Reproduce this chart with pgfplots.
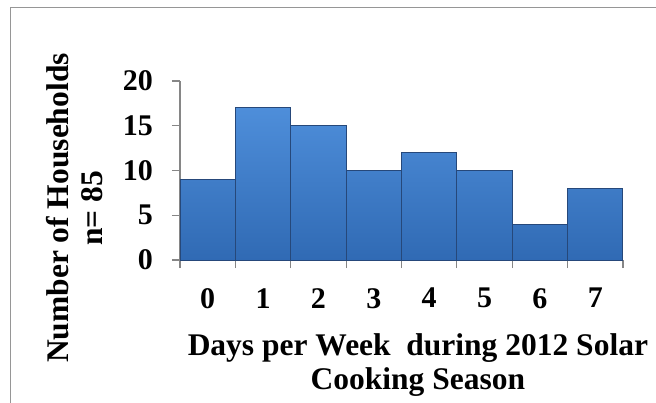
\documentclass[border=0pt]{standalone}
\usepackage{fontspec}
\setmainfont{Liberation Serif}
\usepackage{pgfplots}
\pgfplotsset{compat=1.18}
\definecolor{axisgray}{RGB}{134,134,134}
\definecolor{framegray}{RGB}{150,150,150}
\definecolor{bartop}{RGB}{78,142,218}
\definecolor{barbottom}{RGB}{48,106,180}
\definecolor{baredge}{RGB}{38,72,122}
\begin{document}
\begin{tikzpicture}[x=1pt,y=1pt]
\useasboundingbox (0,0) rectangle (656,402);
\draw[framegray, line width=1.2pt] (10.5,394.5) rectangle (720,-50);
\begin{axis}[
  at={(180pt,142pt)}, anchor=south west,
  scale only axis, width=443pt, height=179pt,
  xmin=-0.5, xmax=7.5, ymin=0, ymax=20,
  axis x line*=bottom, axis y line*=left,
  axis line style={axisgray, line width=1.6pt, -},
  xtick={-0.5,0.5,1.5,2.5,3.5,4.5,5.5,6.5,7.5},
  x tick label as interval,
  xticklabels={0,1,2,3,4,5,6,7},
  ytick={0,5,10,15,20},
  tick align=outside, major tick length=8pt,
  tick style={axisgray, line width=1.2pt},
  /pgf/number format/assume math mode=true,
  xticklabel style={font=\fontsize{30}{30}\selectfont\bfseries, inner sep=0pt, anchor=north, yshift=-20pt},
  yticklabel style={font=\fontsize{30}{30}\selectfont\bfseries, inner sep=0pt, anchor=east, xshift=-19pt},
  xlabel={Days per Week\ \ during 2012 Solar\\Cooking Season},
  ylabel={Number of Households\\n= 85},
  xlabel style={font=\fontsize{31.5}{34}\selectfont\bfseries, align=center, at={(axis description cs:0.537,-0.587)}, anchor=center},
  ylabel style={font=\fontsize{31.5}{34}\selectfont\bfseries, align=center, at={(axis description cs:-0.237,0.29)}, anchor=center},
]
\addplot[ybar, bar width=1, top color=bartop, bottom color=barbottom, draw=baredge, line width=1pt]
  coordinates {(0,9) (1,17) (2,15) (3,10) (4,12) (5,10) (6,4) (7,8)};
\end{axis}
\end{tikzpicture}
\end{document}
